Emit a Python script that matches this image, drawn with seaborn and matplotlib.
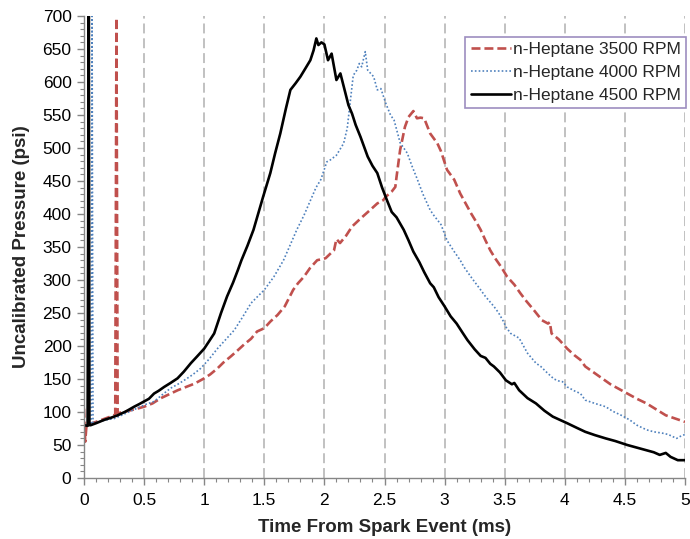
import matplotlib
matplotlib.use("Agg")
import matplotlib.pyplot as plt
import seaborn as sns
import pandas as pd
from matplotlib.ticker import MultipleLocator, FixedLocator

# Pressure traces after the spark event (time in ms, pressure in psi)
t_3500 = [0.0, 0.01, 0.02, 0.05, 0.1, 0.16, 0.22, 0.26, 0.27, 0.28, 0.35, 0.42, 0.5, 0.57,
          0.64, 0.71, 0.78, 0.85, 0.92, 1.0, 1.05, 1.11, 1.16, 1.22, 1.27, 1.33, 1.39, 1.44,
          1.5, 1.55, 1.61, 1.67, 1.74, 1.78, 1.83, 1.88, 1.94, 2.01, 2.05, 2.08, 2.1, 2.13,
          2.18, 2.23, 2.3, 2.38, 2.44, 2.49, 2.51, 2.56, 2.59, 2.6, 2.63, 2.67, 2.7, 2.74,
          2.77, 2.8, 2.83, 2.88, 2.94, 2.97, 3.02, 3.08, 3.13, 3.16, 3.22, 3.26, 3.3, 3.34,
          3.38, 3.42, 3.47, 3.52, 3.58, 3.63, 3.68, 3.74, 3.81, 3.86, 3.875, 3.89, 3.95,
          4.02, 4.08, 4.13, 4.17, 4.24, 4.31, 4.38, 4.45, 4.52, 4.6, 4.68, 4.76, 4.84, 4.92, 5.0]
p_3500 = [105, 55, 78, 82, 85, 89, 93, 96, 697, 98, 101, 104, 108, 113,
          121, 127, 133, 138, 143, 151, 157, 166, 175, 184, 192, 202, 211, 222,
          227, 237, 247, 260, 285, 295, 305, 318, 330, 333, 340, 345, 362, 356,
          367, 381, 393, 406, 416, 421, 426, 434, 441, 456, 497, 532, 547, 556,
          545, 546, 545, 522, 507, 495, 467, 452, 431, 421, 401, 389, 376, 360,
          345, 333, 320, 305, 293, 280, 268, 255, 239, 234, 236, 219, 210,
          196, 186, 179, 169, 160, 151, 142, 135, 128, 120, 113, 104, 95, 90, 85]

t_4000 = [0.0, 0.06, 0.067, 0.075, 0.12, 0.18, 0.25, 0.3, 0.36, 0.42, 0.47, 0.52, 0.583,
          0.65, 0.72, 0.78, 0.833, 0.9, 0.97, 1.04, 1.11, 1.18, 1.25, 1.32, 1.39, 1.45, 1.5,
          1.58, 1.66, 1.72, 1.77, 1.83, 1.88, 1.93, 1.97, 2.02, 2.05, 2.1, 2.16, 2.19, 2.22,
          2.24, 2.27, 2.29, 2.31, 2.34, 2.36, 2.41, 2.44, 2.47, 2.51, 2.55, 2.58, 2.63, 2.69,
          2.73, 2.77, 2.82, 2.88, 2.91, 2.97, 3.02, 3.08, 3.13, 3.16, 3.23, 3.3, 3.34, 3.41,
          3.45, 3.49, 3.51, 3.55, 3.62, 3.69, 3.76, 3.8, 3.85, 3.91, 3.95, 3.98, 4.02, 4.08,
          4.13, 4.17, 4.25, 4.34, 4.4, 4.47, 4.54, 4.6, 4.68, 4.74, 4.81, 4.86, 4.93, 4.96, 5.0]
p_4000 = [80, 82, 720, 83, 85, 88, 90, 94, 99, 104, 108, 112, 116,
          126, 136, 142, 148, 156, 166, 180, 196, 210, 224, 244, 265, 276, 285,
          305, 330, 355, 376, 398, 419, 440, 452, 479, 482, 489, 507, 530, 578,
          610, 618, 628, 623, 646, 618, 608, 588, 590, 568, 550, 542, 508, 492,
          472, 454, 430, 406, 398, 384, 360, 343, 330, 320, 302, 285, 275, 260,
          250, 237, 229, 219, 212, 189, 174, 169, 160, 150, 147, 146, 138, 132,
          128, 118, 113, 108, 101, 95, 88, 80, 73, 70, 68, 66, 60, 63, 66]

t_4500 = [0.0, 0.03, 0.04, 0.045, 0.055, 0.1, 0.167, 0.22, 0.28, 0.35, 0.417, 0.46, 0.5,
          0.54, 0.583, 0.62, 0.667, 0.72, 0.778, 0.83, 0.889, 0.94, 1.0, 1.04, 1.083, 1.14,
          1.19, 1.24, 1.28, 1.31, 1.36, 1.41, 1.45, 1.49, 1.55, 1.59, 1.633, 1.68, 1.717,
          1.76, 1.8, 1.84, 1.883, 1.91, 1.933, 1.95, 1.975, 2.0, 2.03, 2.06, 2.1, 2.133,
          2.175, 2.2, 2.23, 2.26, 2.3, 2.36, 2.4, 2.44, 2.48, 2.52, 2.56, 2.6, 2.66, 2.7,
          2.74, 2.79, 2.83, 2.88, 2.91, 2.95, 3.0, 3.05, 3.1, 3.15, 3.19, 3.25, 3.3, 3.34,
          3.38, 3.41, 3.46, 3.51, 3.56, 3.58, 3.62, 3.69, 3.76, 3.83, 3.9, 3.96, 4.02, 4.1,
          4.17, 4.25, 4.34, 4.42, 4.52, 4.6, 4.68, 4.74, 4.79, 4.84, 4.88, 4.94, 5.0]
p_4500 = [80, 79, 720, 80, 80, 83, 88, 91, 95, 101, 108, 112, 116,
          120, 128, 132, 138, 144, 151, 161, 174, 184, 196, 207, 219, 250,
          275, 296, 315, 330, 352, 376, 401, 426, 462, 492, 522, 560, 588,
          598, 608, 620, 633, 648, 666, 656, 660, 657, 633, 643, 603, 613,
          583, 565, 552, 535, 517, 487, 473, 462, 440, 421, 403, 395, 376, 360,
          343, 327, 312, 295, 289, 274, 260, 245, 234, 220, 209, 195, 185, 182,
          173, 169, 160, 148, 142, 144, 133, 121, 113, 102, 93, 88, 83, 76,
          70, 65, 60, 56, 50, 46, 42, 39, 35, 38, 32, 27, 27]

series_labels = ["n-Heptane 3500 RPM", "n-Heptane 4000 RPM", "n-Heptane 4500 RPM"]
x_tick_labels = ["0", "0.5", "1", "1.5", "2", "2.5", "3", "3.5", "4", "4.5", "5"]

sns.set_theme(style="white")
plt.rcParams["font.family"] = ["Liberation Sans", "DejaVu Sans"]

fig = plt.figure(figsize=(6.9, 5.39), dpi=100)
ax = fig.add_axes([84 / 690, 1 - 478 / 539, 601 / 690, 462 / 539])

styles = [
    dict(color="#C0504D", linewidth=1.9, linestyle=(0, (3.4, 1.5))),
    dict(color="#4F81BD", linewidth=1.2, linestyle=(0, (1.0, 1.3))),
    dict(color="#000000", linewidth=1.9, linestyle="-"),
]
for t, p, lab, st in zip([t_3500, t_4000, t_4500], [p_3500, p_4000, p_4500],
                         series_labels, styles):
    df = pd.DataFrame({"time": t, "pressure": p})
    sns.lineplot(data=df, x="time", y="pressure", ax=ax, label=lab,
                 estimator=None, sort=False, **st)

ax.set_xlim(0, 5)
ax.set_ylim(0, 700)
ax.xaxis.set_major_locator(FixedLocator([i * 0.5 for i in range(11)]))
ax.set_xticklabels(x_tick_labels)
ax.xaxis.set_minor_locator(MultipleLocator(0.1))
ax.yaxis.set_major_locator(MultipleLocator(50))
ax.yaxis.set_minor_locator(MultipleLocator(10))

ax.grid(False)
ax.xaxis.grid(True, which="major", color="#b0b0b0", linewidth=1.1,
              linestyle=(0, (6.5, 3.2)))
ax.set_axisbelow(True)

for side in ["top", "right"]:
    ax.spines[side].set_visible(False)
for side in ["left", "bottom"]:
    ax.spines[side].set_color("#868686")
    ax.spines[side].set_linewidth(1.0)

ax.tick_params(axis="both", which="major", direction="out", length=5, width=1.0,
               color="#868686", labelsize=12.5, labelcolor="black",
               left=True, bottom=True)
ax.tick_params(axis="x", which="major", pad=6)
ax.tick_params(axis="y", which="major", pad=4)
ax.tick_params(axis="both", which="minor", direction="out", length=3, width=0.8,
               color="#868686", left=True, bottom=True)

ax.set_xlabel("Time From Spark Event (ms)", fontsize=13.5, fontweight="bold", labelpad=8)
ax.set_ylabel("Uncalibrated Pressure (psi)", fontsize=13.5, fontweight="bold", labelpad=9)

leg = ax.legend(loc="upper right", bbox_to_anchor=(1.002, 0.955), borderaxespad=0,
                fontsize=12.5, frameon=True, fancybox=False, framealpha=1,
                edgecolor="#9d8ec0", handlelength=2.3, handletextpad=0.15,
                labelspacing=0.45, borderpad=0.3)
leg.get_frame().set_linewidth(1.2)

fig.savefig("out.png", dpi=100)
